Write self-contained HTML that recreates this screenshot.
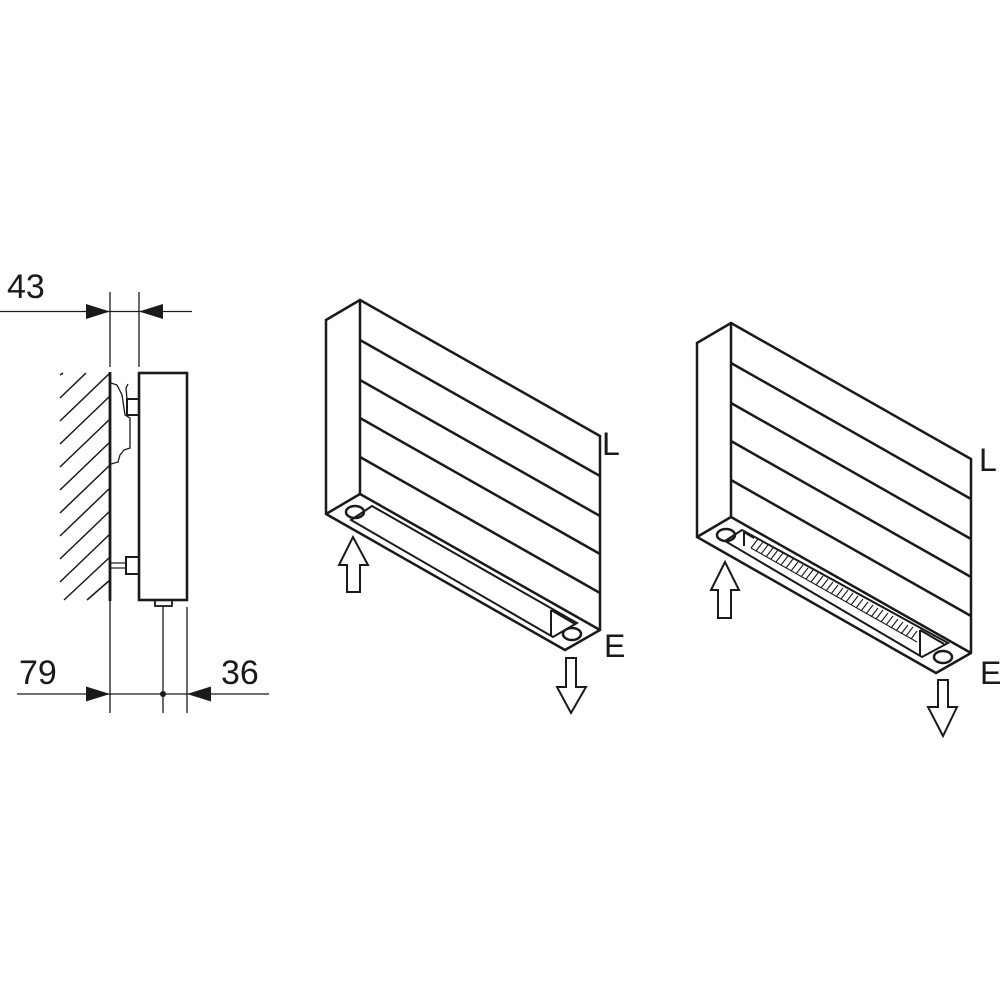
<!DOCTYPE html>
<html><head><meta charset="utf-8"><style>
html,body{margin:0;padding:0;background:#fff}
svg{display:block}
text{font-family:"Liberation Sans",sans-serif;fill:#1a1a1a}
</style></head><body>
<svg width="1000" height="1000" viewBox="0 0 1000 1000" xmlns="http://www.w3.org/2000/svg">
<g stroke="#1a1a1a" fill="none">
  <g stroke-width="1.3">
    <line x1="0" y1="311.5" x2="192" y2="311.5"/>
    <line x1="110" y1="292" x2="110" y2="367"/>
    <line x1="139" y1="292" x2="139" y2="367"/>
    <line x1="17" y1="694" x2="269" y2="694"/>
    <line x1="110" y1="600" x2="110" y2="713"/>
    <line x1="163" y1="606" x2="163" y2="713"/>
    <line x1="187" y1="607" x2="187" y2="713"/>
  </g>
  <polygon points="110,311.5 86,304 86,319" fill="#1a1a1a" stroke="none"/>
  <polygon points="139,311.5 163,304 163,319" fill="#1a1a1a" stroke="none"/>
  <polygon points="110,694 86,686.5 86,701.5" fill="#1a1a1a" stroke="none"/>
  <polygon points="187,694 211,686.5 211,701.5" fill="#1a1a1a" stroke="none"/>
  <circle cx="163" cy="694" r="3" fill="#1a1a1a" stroke="none"/>
  <path stroke-width="1.5" d="M60,375L63,373M60,398L86,373M60,421L110,373M60,444L110,396M60,467L110,419M60,490L110,442M60,513L110,465M60,536L110,488M60,559L110,511M60,582L110,534M64,600L110,557M87,600L110,580"/>
  <line x1="110" y1="372" x2="110" y2="601" stroke-width="2.8"/>
  <rect x="139" y="373" width="48" height="227" stroke-width="2.6"/>
  <rect x="127" y="399" width="12" height="16" stroke-width="2"/>
  <path d="M111,383 L117,385 L122,395 L125,415 L130,418 L130,448 L124,450 L120,455 L118,462 L111,464" stroke-width="1.3"/>
  <path d="M127,399 L126,388 L128,384" stroke-width="1.3"/>
  <rect x="126" y="557" width="13" height="17" stroke-width="2"/>
  <line x1="111" y1="563" x2="126" y2="563" stroke-width="1.2"/>
  <line x1="111" y1="568" x2="126" y2="568" stroke-width="1.2"/>
  <rect x="155" y="600" width="17" height="6" stroke-width="1.8"/>

  <g id="rad" stroke-width="2.5">
    <polygon points="326,320 360,300 600,436 600,630 565,650 326,514"/>
    <line x1="360" y1="300" x2="360" y2="494"/>
    <line x1="326" y1="514" x2="360" y2="494"/>
    <line x1="360" y1="494" x2="600" y2="630"/>
    <line x1="360" y1="340" x2="600" y2="476"/>
    <line x1="360" y1="380" x2="600" y2="516"/>
    <line x1="360" y1="418" x2="600" y2="554"/>
    <line x1="360" y1="457" x2="600" y2="593"/>
    <ellipse cx="355" cy="512" rx="9" ry="6"/>
    <ellipse cx="572" cy="634" rx="9" ry="6"/>
  </g>
  <g stroke-width="2">
    <polygon points="372,506 351,520 553,637 577,623"/>
    <line x1="551" y1="610" x2="551" y2="636"/>
    <line x1="551" y1="610" x2="575" y2="624"/>
    <polygon points="353,537 339,565 347,565 347,592 360,592 360,565 368,565"/>
    <polygon points="566,658 576,658 576,687 586,687 571,713 557,687 566,687"/>
  </g>

  <use href="#rad" transform="translate(371,23)"/>
  <g stroke-width="2">
    <polygon points="742,530 725,541 922,657 948,643"/>
    <line x1="744" y1="532" x2="744" y2="546"/>
    <line x1="744" y1="532" x2="754" y2="538"/>
    <line x1="920" y1="630" x2="920" y2="656"/>
    <line x1="920" y1="630" x2="944" y2="644"/>
    <polygon points="725,562 711,590 718,590 718,618 731,618 731,590 739,590"/>
    <polygon points="938,680 948,680 948,707 957,707 943,736 928,707 938,707"/>
  </g>
  <path stroke-width="1.1" d="M751,548l7,-9M756,551l7,-9M761,554l7,-9M766,557l7,-9M771,559l7,-9M776,562l7,-9M781,565l7,-9M786,568l7,-9M791,571l7,-9M796,574l7,-9M801,577l7,-9M806,579l7,-9M811,582l7,-9M816,585l7,-9M821,588l7,-9M826,591l7,-9M831,594l7,-9M836,597l7,-9M841,599l7,-9M846,602l7,-9M851,605l7,-9M856,608l7,-9M861,611l7,-9M866,614l7,-9M871,617l7,-9M876,619l7,-9M881,622l7,-9M886,625l7,-9M891,628l7,-9M896,631l7,-9M901,634l7,-9M906,636l7,-9M911,639l6,-8M751,548L917,642"/>
</g>
<g font-size="34">
  <text x="7" y="298">43</text>
  <text x="19" y="684">79</text>
  <text x="221" y="684">36</text>
</g>
<g font-size="32">
  <text x="602" y="455">L</text>
  <text x="604" y="657">E</text>
  <text x="979" y="471">L</text>
  <text x="980" y="684">E</text>
</g>
</svg>
</body></html>
